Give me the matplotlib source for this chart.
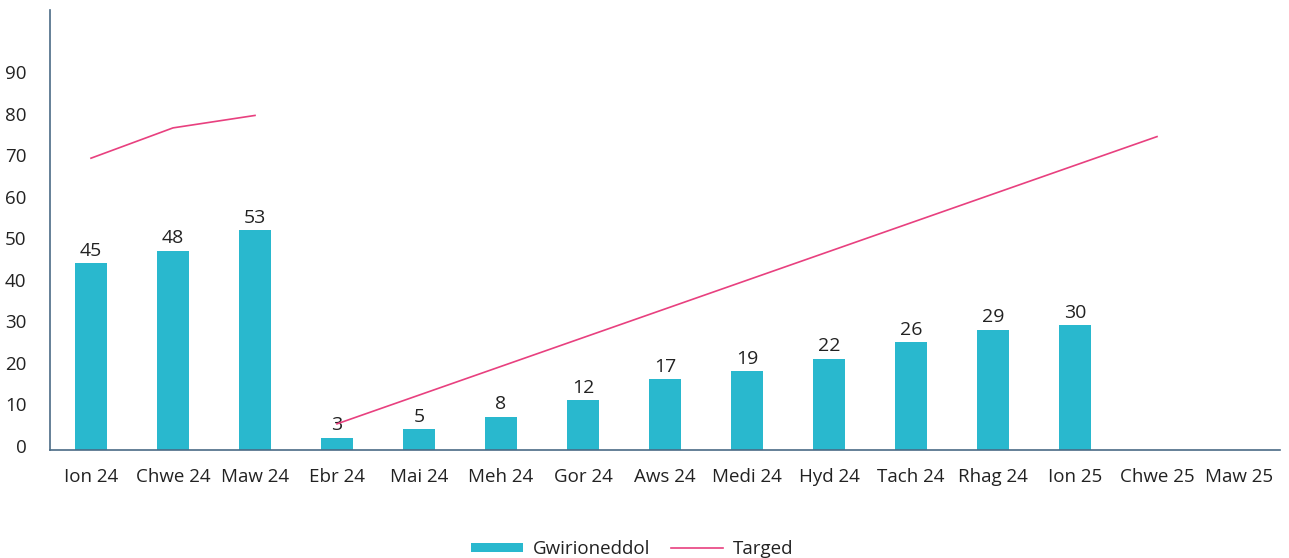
import numpy as np
import matplotlib
matplotlib.use("Agg")
import matplotlib.pyplot as plt
import matplotlib.transforms as mtransforms
from matplotlib.patches import Patch
from matplotlib.lines import Line2D

plt.rcParams['font.family'] = ['Open Sans', 'DejaVu Sans']

categories = ["Ion 24", "Chwe 24", "Maw 24", "Ebr 24", "Mai 24", "Meh 24", "Gor 24",
              "Aws 24", "Medi 24", "Hyd 24", "Tach 24", "Rhag 24", "Ion 25", "Chwe 25", "Maw 25"]
actual = [45, 48, 53, 3, 5, 8, 12, 17, 19, 22, 26, 29, 30, None, None]
target = [70.3, 77.6, 80.6, 6.3, None, None, None, None, None, None, None, None, None, 75.5, None]
yticks = [0, 10, 20, 30, 40, 50, 60, 70, 80, 90]

bar_color = "#29B8CE"
line_color = "#E8407F"
axis_color = "#4A6B85"
text_color = "#222222"

fig = plt.figure(figsize=(12.89, 5.58), dpi=100)
ax = fig.add_axes([50/1289, 1-450/558, 1230/1289, 440/558])

x = np.arange(len(categories))
bx = [i for i, v in enumerate(actual) if v is not None]
bv = [v for v in actual if v is not None]
ax.bar(bx, bv, width=0.38, color=bar_color, zorder=2)
for i, v in zip(bx, bv):
    ax.text(i, v + 0.8, str(v), ha="center", va="bottom", fontsize=14, color=text_color)

# target: first year segment, then second segment (non-missing points)
seg1 = [(i, target[i]) for i in range(0, 3) if target[i] is not None]
seg2 = [(i, target[i]) for i in range(3, len(target)) if target[i] is not None]
for seg in (seg1, seg2):
    ax.plot([p[0] for p in seg], [p[1] for p in seg], color=line_color, lw=1.2, zorder=3)

ax.set_xlim(-0.5, len(categories) - 0.5)
ax.set_ylim(0, 106)
ax.set_xticks(x)
ax.set_xticklabels(categories, fontsize=13.5, color=text_color)
ax.set_yticks(yticks)
ax.set_yticklabels([str(t) for t in yticks], fontsize=13.5, color=text_color)
ax.tick_params(axis="x", length=0, pad=13)
ax.tick_params(axis="y", length=0, pad=17)
offset = mtransforms.ScaledTranslation(0, 4/100, fig.dpi_scale_trans)
for lab in ax.get_yticklabels():
    lab.set_transform(lab.get_transform() + offset)

for s in ["top", "right"]:
    ax.spines[s].set_visible(False)
for s in ["left", "bottom"]:
    ax.spines[s].set_color(axis_color)
    ax.spines[s].set_linewidth(1.2)
    ax.spines[s].set_zorder(4)

handles = [Patch(facecolor=bar_color, edgecolor="none"),
           Line2D([0], [0], color=line_color, lw=1.2)]
fig.legend(handles, ["Gwirioneddol", "Targed"], loc="center", bbox_to_anchor=(632/1289, 1-549/558),
           ncol=2, frameon=False, fontsize=13.5, handlelength=2.8, handleheight=0.35,
           columnspacing=1.1, handletextpad=0.5, labelcolor=text_color)

fig.savefig("out.png", dpi=100)
